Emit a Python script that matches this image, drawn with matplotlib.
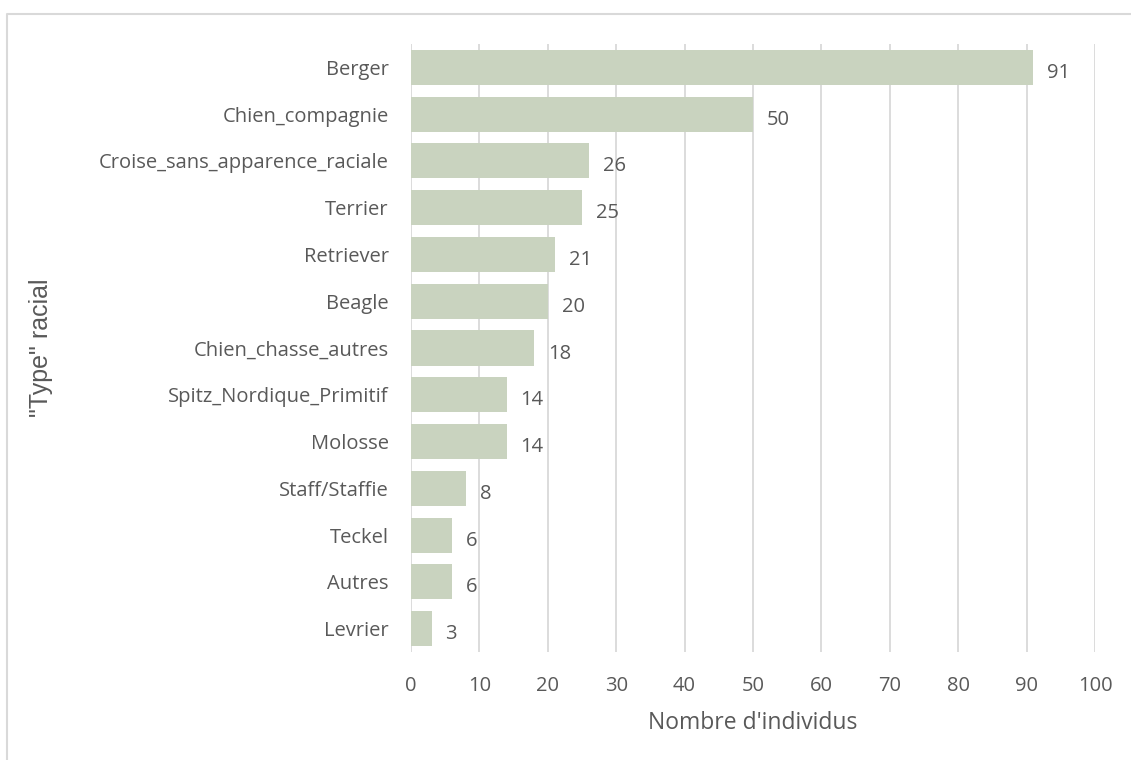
import matplotlib
matplotlib.use("Agg")
import matplotlib.pyplot as plt
from matplotlib.lines import Line2D

# Types raciaux et nombre d'individus
categories = ["Berger", "Chien_compagnie", "Croise_sans_apparence_raciale", "Terrier",
              "Retriever", "Beagle", "Chien_chasse_autres", "Spitz_Nordique_Primitif",
              "Molosse", "Staff/Staffie", "Teckel", "Autres", "Levrier"]
counts = [91, 50, 26, 25, 21, 20, 18, 14, 14, 8, 6, 6, 3]
x_ticks = list(range(0, 101, 10))

text_color = "#595959"
bar_color = "#c9d3bf"
grid_color = "#d9d9d9"

plt.rcParams['font.family'] = ['Open Sans', 'DejaVu Sans']

fig = plt.figure(figsize=(11.31, 7.6), dpi=100)
ax = fig.add_axes([411 / 1131, 1 - 652 / 760, (1095 - 411) / 1131, (652 - 44) / 760])

pos = list(range(len(categories)))
ax.barh(pos, counts, height=0.75, color=bar_color, zorder=2)

# valeurs au bout des barres
for p, v in zip(pos, counts):
    ax.annotate(str(v), (v, p), xytext=(10, -4), textcoords="offset points",
                va="center", ha="left", fontsize=14.5, color=text_color)

ax.set_xlim(0, 100)
ax.set_ylim(len(categories) - 0.5, -0.5)
ax.set_xticks(x_ticks)
ax.set_yticks(pos)
ax.set_yticklabels(categories)
ax.tick_params(axis="both", length=0, labelsize=14.5, colors=text_color)
ax.tick_params(axis="y", pad=16)
ax.tick_params(axis="x", pad=17)
ax.xaxis.grid(True, color=grid_color, linewidth=1.3, zorder=0)
for s in ax.spines.values():
    s.set_visible(False)

ax.set_xlabel("Nombre d'individus", fontsize=16.5, color=text_color, labelpad=11)
ax.set_ylabel('"Type" racial', fontsize=18, color=text_color, labelpad=33,
              family=['Liberation Sans', 'DejaVu Sans'])

# cadre du graphique
fig.add_artist(Line2D([7 / 1131, 7 / 1131, 1], [0, 1 - 14 / 760, 1 - 14 / 760],
                      transform=fig.transFigure, color=grid_color, linewidth=1.5))

fig.savefig("out.png", dpi=100)
